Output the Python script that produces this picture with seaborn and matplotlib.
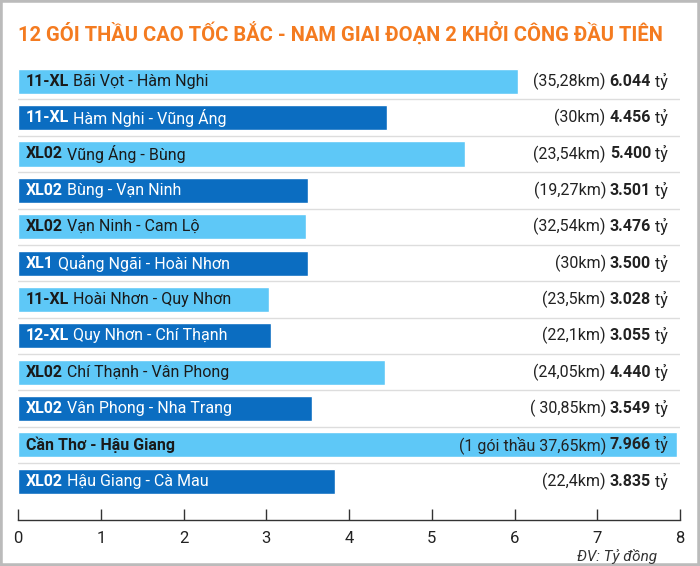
import matplotlib
matplotlib.use("Agg")
import matplotlib.pyplot as plt
import seaborn as sns
import pandas as pd
from matplotlib.patches import Rectangle

codes = ["11-XL", "11-XL", "XL02", "XL02", "XL02", "XL1", "11-XL", "12-XL",
         "XL02", "XL02", "Cần Thơ - Hậu Giang", "XL02"]
routes = ["Bãi Vọt - Hàm Nghi", "Hàm Nghi - Vũng Áng", "Vũng Áng - Bùng",
          "Bùng - Vạn Ninh", "Vạn Ninh - Cam Lộ", "Quảng Ngãi - Hoài Nhơn",
          "Hoài Nhơn - Quy Nhơn", "Quy Nhơn - Chí Thạnh", "Chí Thạnh - Vân Phong",
          "Vân Phong - Nha Trang", "", "Hậu Giang - Cà Mau"]
lengths = ["(35,28km)", "(30km)", "(23,54km)", "(19,27km)", "(32,54km)", "(30km)",
           "(23,5km)", "(22,1km)", "(24,05km)", "( 30,85km)", "(1 gói thầu 37,65km)", "(22,4km)"]
values = [6.044, 4.456, 5.400, 3.501, 3.476, 3.500, 3.028, 3.055, 4.440, 3.549, 7.966, 3.835]
value_labels = ["6.044", "4.456", "5.400", "3.501", "3.476", "3.500", "3.028", "3.055",
                "4.440", "3.549", "7.966", "3.835"]

LIGHT = "#5EC8F7"
DARK = "#0B6DC1"
colors = [LIGHT if i % 2 == 0 else DARK for i in range(len(values))]

sns.set_theme(style="white")
plt.rcParams['font.family'] = ['Roboto', 'DejaVu Sans']

df = pd.DataFrame({"row": [str(i) for i in range(len(values))], "value": values})

fig = plt.figure(figsize=(7, 5.66), dpi=100, facecolor="white")
ax = fig.add_axes([18 / 700, 0.081, 662 / 700, 0.814])
sns.barplot(data=df, x="value", y="row", hue="row", palette=colors, legend=False,
            width=0.69, saturation=1, ax=ax)
ax.set_xlim(0, 8)
ax.set_ylim(len(values) - 1 + 1.07, -0.6)
ax.set_xticks(range(9))
ax.set_yticks([])
ax.set_xlabel("")
ax.set_ylabel("")
ax.set_facecolor("none")
for s in ["top", "right", "left"]:
    ax.spines[s].set_visible(False)
ax.spines["bottom"].set_color("#333333")
ax.spines["bottom"].set_linewidth(1)
ax.tick_params(axis="x", direction="in", length=8, width=1, color="#333333",
               labelsize=12, pad=8, labelcolor="#222222")
ax.tick_params(axis="x", bottom=True)

for i in range(len(values) - 1):
    ax.axhline(i + 0.5, color="#dddddd", lw=1, zorder=0)

fig.canvas.draw()
r = fig.canvas.get_renderer()
fs = 11.5


def width_px(t):
    return t.get_window_extent(renderer=r).width


for i in range(len(values)):
    tc = "white" if colors[i] == DARK else "#1a1a1a"
    # inner label: bold code then plain route
    t1 = ax.annotate(codes[i], (0, i), xytext=(8, 0), textcoords="offset pixels",
                     ha="left", va="center", fontsize=fs, fontweight="bold", color=tc)
    if routes[i]:
        w = width_px(t1)
        ax.annotate(" " + routes[i], (0, i), xytext=(8 + w, 0), textcoords="offset pixels",
                    ha="left", va="center", fontsize=fs, color=tc)
    # right label, built right to left
    t3 = ax.annotate(" tỷ", (8, i), xytext=(-12, 0), textcoords="offset pixels",
                     ha="right", va="center", fontsize=fs, color="#222222")
    w3 = width_px(t3)
    t2 = ax.annotate(value_labels[i], (8, i), xytext=(-12 - w3, 0), textcoords="offset pixels",
                     ha="right", va="center", fontsize=fs, fontweight="bold", color="#222222")
    w2 = width_px(t2)
    ax.annotate(lengths[i] + " ", (8, i), xytext=(-12 - w3 - w2, 0), textcoords="offset pixels",
                ha="right", va="center", fontsize=fs, color="#222222")

fig.text(18 / 700, 1 - 33 / 566, "12 GÓI THẦU CAO TỐC BẮC - NAM GIAI ĐOẠN 2 KHỞI CÔNG ĐẦU TIÊN",
         ha="left", va="center", fontsize=14.5, fontweight="bold", color="#F47B20")
fig.text(657 / 700, 1 - 556 / 566, "ĐV: Tỷ đồng", ha="right", va="center",
         fontsize=11, style="italic", color="#333333")

fig.patches.append(Rectangle((0, 0), 1, 1, transform=fig.transFigure, fill=False,
                             edgecolor="#bbbbbb", lw=4))

fig.savefig("out.png", dpi=100)
